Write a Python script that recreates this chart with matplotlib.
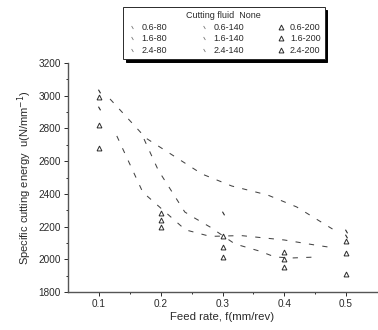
import numpy as np
import matplotlib
matplotlib.use("Agg")
import matplotlib.pyplot as plt
from matplotlib.lines import Line2D

INK = "#2a2a2a"
plt.rcParams.update({"font.family": ["Liberation Sans", "DejaVu Sans"], "font.size": 6.5,
                     "text.color": INK, "axes.labelcolor": INK,
                     "xtick.color": INK, "ytick.color": INK})

nan = np.nan
feed = [0.1, 0.2, 0.3, 0.4, 0.5]

# triangle series (scan keeps these best)
u_06_200 = [2992, 2280, 2140, 2045, 2040]
u_16_200 = [2821, 2240, 2075, 2000, 1910]
u_24_200 = [2680, 2200, 2015, 1955, 2110]
# faint tick-like markers of the other series
u_06_80 = [3030, nan, nan, nan, 2175]
u_16_140 = [2925, nan, 2283, nan, 2140]

# fitted (dashed) curves
fit1_x = [0.118, 0.176, 0.267, 0.315, 0.373, 0.42, 0.478]
fit1_y = [2980, 2741, 2521, 2448, 2393, 2320, 2185]
fit2_x = [0.129, 0.171, 0.24, 0.28, 0.33, 0.40, 0.45, 0.48]
fit2_y = [2754, 2410, 2180, 2140, 2145, 2118, 2087, 2070]
fit3_x = [0.173, 0.196, 0.239, 0.255, 0.28, 0.32, 0.36, 0.385, 0.412, 0.453]
fit3_y = [2735, 2545, 2289, 2252, 2197, 2094, 2050, 2014, 2008, 2014]

labels = ["0.6-80", "1.6-80", "2.4-80",
          "0.6-140", "1.6-140", "2.4-140",
          "0.6-200", "1.6-200", "2.4-200"]

fig = plt.figure(figsize=(3.78, 3.30), dpi=100)
ax = fig.add_axes([68 / 378, 38 / 330, 309 / 378, 229 / 330])

dash = dict(color="#444444", lw=0.75, ls=(0, (5, 8)))
ax.plot(fit1_x, fit1_y, **dash)
ax.plot(fit2_x, fit2_y, **dash)
ax.plot(fit3_x, fit3_y, **dash)

tri = dict(marker="^", ms=3.5, mfc="none", mec=INK, mew=0.7, ls="none")
ax.plot(feed, u_06_200, **tri)
ax.plot(feed, u_16_200, **tri)
ax.plot(feed, u_24_200, **tri)
tick = dict(marker=(2, 0, 30), ms=3, mec=INK, mew=0.8, ls="none")
ax.plot(feed, u_06_80, **tick)
ax.plot(feed, u_16_140, **tick)

ax.set_xlim(0.05, 0.55)
ax.set_ylim(1800, 3200)
ax.set_xticks(feed)
ax.set_xticklabels([f"{v:.1f}" for v in feed])
ax.set_xticks(np.arange(0.15, 0.55, 0.1), minor=True)
ax.set_yticks(np.arange(1800, 3201, 200))
ax.set_yticks(np.arange(1900, 3200, 200), minor=True)
ax.tick_params(which="major", length=3, width=0.7, pad=2, labelsize=7.2)
ax.tick_params(which="minor", length=1.5, width=0.7)
for s in ("top", "right"):
    ax.spines[s].set_visible(False)
for s in ("left", "bottom"):
    ax.spines[s].set_color("#555555")
    ax.spines[s].set_linewidth(1.0)

ax.set_xlabel("Feed rate, f(mm/rev)", fontsize=8.2, labelpad=2)
ax.set_ylabel("Specific cutting energy  u(N/mm$^{-1}$)", fontsize=8, labelpad=3)

handles = []
for i, lab in enumerate(labels):
    if i >= 6:
        handles.append(Line2D([], [], **tri))
    else:
        handles.append(Line2D([], [], marker=(2, 0, 30), ms=2.5, mec="#777777",
                              mew=0.6, ls="none"))
leg = fig.legend(handles, labels, ncol=3, title="Cutting fluid  None",
                 loc="upper left", bbox_to_anchor=(123 / 378, 1 - 7 / 330),
                 bbox_transform=fig.transFigure, fontsize=6.5, title_fontsize=6.5,
                 frameon=True, fancybox=False, borderaxespad=0,
                 handlelength=1.2, handletextpad=0.4, columnspacing=3.5,
                 labelspacing=0.3, borderpad=0.45,
                 shadow={"color": "black", "alpha": 1})
leg.get_frame().set_edgecolor(INK)
leg.get_frame().set_linewidth(0.7)

fig.savefig("out.png", dpi=100, facecolor="white")
